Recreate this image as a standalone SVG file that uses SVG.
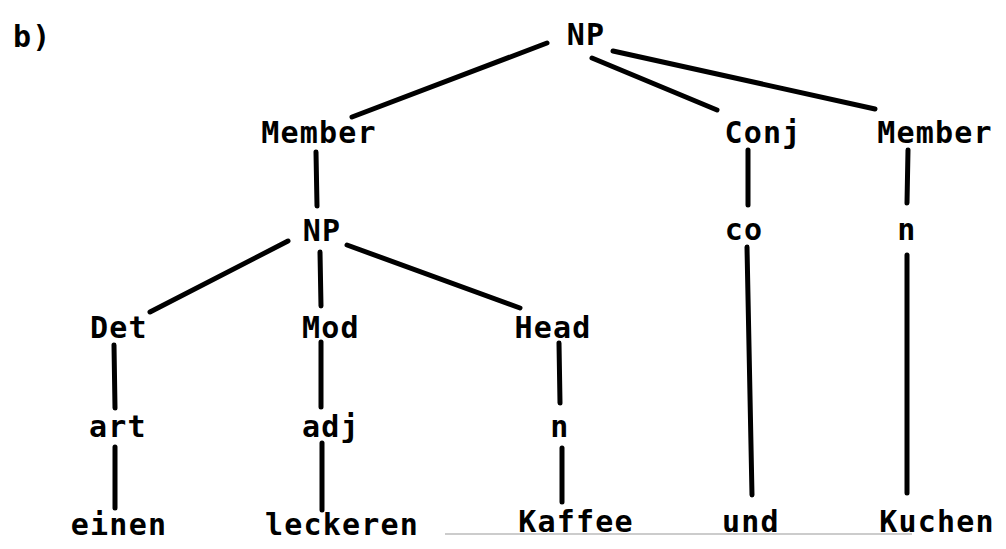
<svg xmlns="http://www.w3.org/2000/svg" width="1006" height="549" viewBox="0 0 1006 549">
<style>
.t{font-family:"DejaVu Sans Mono","Liberation Mono",monospace;font-weight:bold;font-size:30px;letter-spacing:1.2px;fill:#000;text-anchor:middle}
.e{stroke:#000;stroke-width:5;stroke-linecap:round;fill:none}
</style>
<rect width="1006" height="549" fill="#fff"/>
<text class="t" x="13" y="47" style="text-anchor:start">b)</text>
<g id="connectors">
<line class="e" x1="547" y1="43" x2="352" y2="117"/>
<line class="e" x1="592" y1="58" x2="717" y2="110"/>
<line class="e" x1="613" y1="51" x2="875" y2="109"/>
<line class="e" x1="316" y1="152" x2="317" y2="206"/>
<line class="e" x1="288" y1="241" x2="150" y2="312"/>
<line class="e" x1="320" y1="252" x2="321" y2="306"/>
<line class="e" x1="347" y1="245" x2="520" y2="308"/>
<line class="e" x1="748" y1="150" x2="748" y2="205"/>
<line class="e" x1="908" y1="150" x2="907" y2="203"/>
<line class="e" x1="114" y1="345" x2="115" y2="408"/>
<line class="e" x1="321" y1="342" x2="321" y2="407"/>
<line class="e" x1="559" y1="343" x2="560" y2="403"/>
<line class="e" x1="115" y1="447" x2="115" y2="508"/>
<line class="e" x1="322" y1="443" x2="322" y2="510"/>
<line class="e" x1="562" y1="448" x2="562" y2="502"/>
<line class="e" x1="747" y1="247" x2="752" y2="495"/>
<line class="e" x1="907" y1="255" x2="907" y2="493"/>
</g>
<line x1="445" y1="534" x2="912" y2="534" stroke="#999" stroke-width="1"/>
<g id="np-top"><text class="t" x="586" y="45">NP</text></g>
<g id="member-left"><text class="t" x="319" y="143">Member</text></g>
<g id="conj"><text class="t" x="763" y="143">Conj</text></g>
<g id="member-right"><text class="t" x="935" y="143">Member</text></g>
<g id="np-mid"><text class="t" x="322" y="241">NP</text></g>
<g id="co"><text class="t" x="744" y="240">co</text></g>
<g id="n-right"><text class="t" x="907" y="240">n</text></g>
<g id="det"><text class="t" x="119" y="338">Det</text></g>
<g id="mod"><text class="t" x="331" y="338">Mod</text></g>
<g id="head"><text class="t" x="553" y="338">Head</text></g>
<g id="art"><text class="t" x="118" y="437">art</text></g>
<g id="adj"><text class="t" x="331" y="437">adj</text></g>
<g id="n-mid"><text class="t" x="560" y="437">n</text></g>
<g id="einen"><text class="t" x="119" y="535">einen</text></g>
<g id="leckeren"><text class="t" x="342" y="535">leckeren</text></g>
<g id="kaffee"><text class="t" x="576" y="532">Kaffee</text></g>
<g id="und"><text class="t" x="751" y="532">und</text></g>
<g id="kuchen"><text class="t" x="937" y="532">Kuchen</text></g>
</svg>
